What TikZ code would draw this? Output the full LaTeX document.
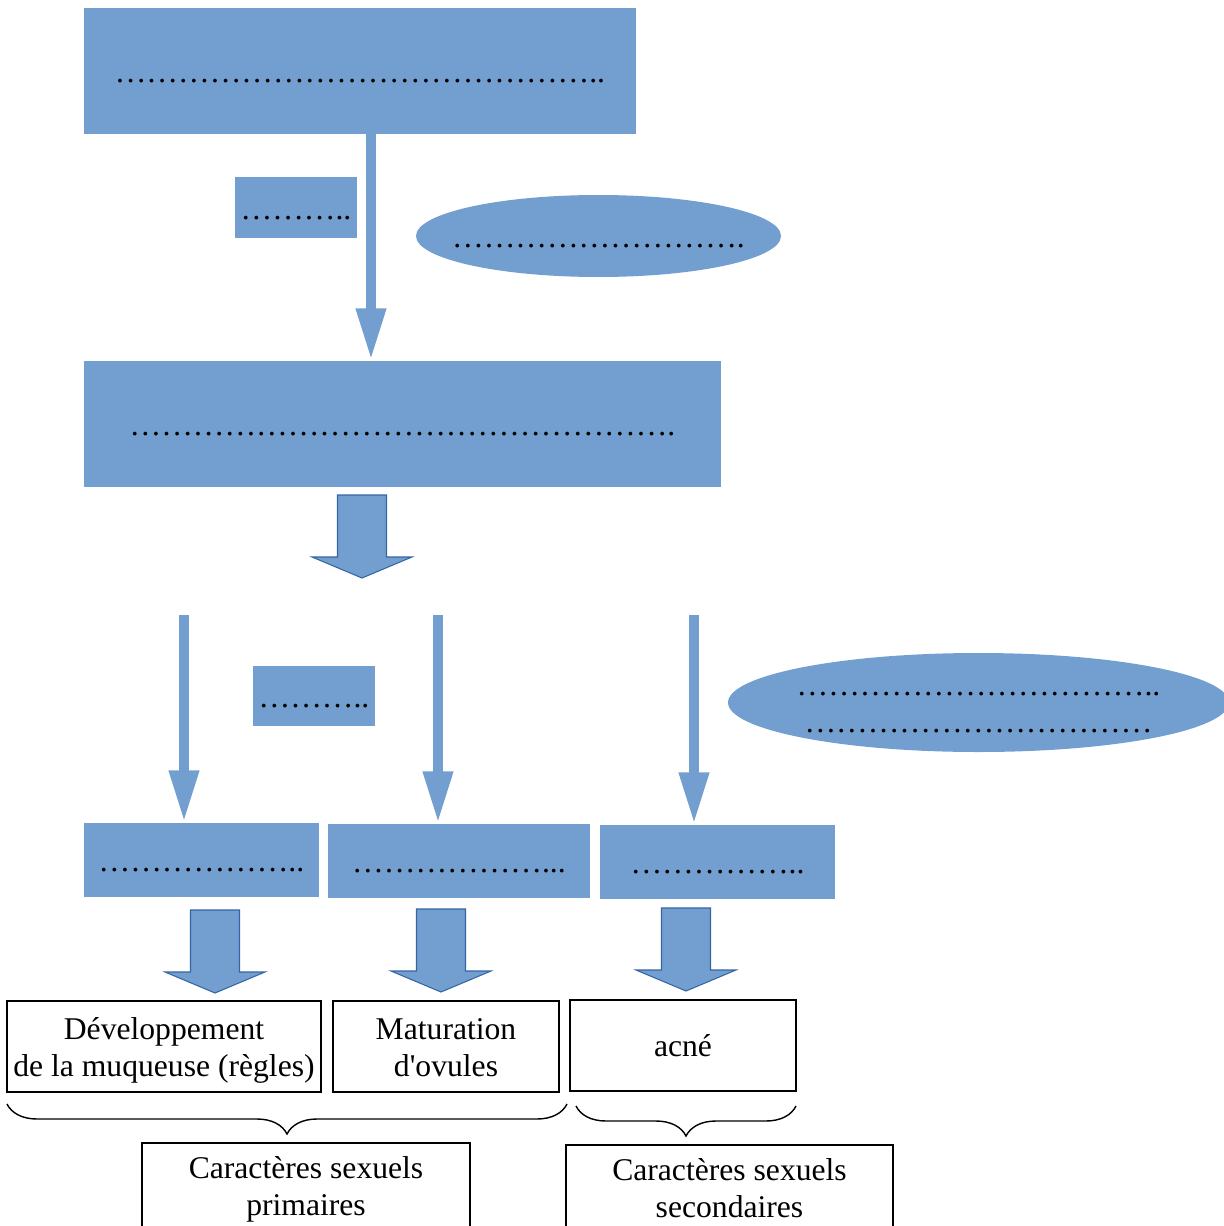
\documentclass[tikz,border=0pt]{standalone}
\usepackage{fontspec}
\setmainfont{Liberation Serif}[Ligatures=TeXOff]
\usepackage{tikz}
\usetikzlibrary{shapes.geometric,arrows.meta,decorations.pathreplacing}
\definecolor{bleu}{HTML}{729FCF}
\definecolor{bord}{HTML}{3465A4}
\newcommand\lh{\rule{0pt}{8.6pt}}
\newcommand\lb{\rule[-2.2pt]{0pt}{2.2pt}}
\tikzset{
  points/.style={inner sep=0pt, text height=0.9em, text depth=0.22em},
  boite/.style={points, fill=bleu},
  bulle/.style={fill=bleu, ellipse, inner sep=0pt},
  cadre/.style={draw, line width=0.4pt, inner sep=0pt, align=center},
  fleche/.style={draw=bleu, line width=1mm, -{Triangle[width=2.8mm,length=5.2mm]}},
  grosse/.style={fill=bleu, draw=bord, line width=0.3pt},
  accolade/.style={decorate, decoration={brace, amplitude=3mm, mirror}, line width=0.4pt}
}

\begin{document}
\begin{tikzpicture}[x=0.1mm, y=-0.1mm, font=\fontsize{9}{10.5}\selectfont]
      \useasboundingbox (0,0) rectangle (1223,1226);

      \node[boite, minimum width=55.2mm, minimum height=12.6mm] (A) at (360,71) {……………{}……………{}……………{}..};
      \node[boite, minimum width=12.2mm, minimum height=6.1mm] (B) at (296,207.5) {………{}..};
      \node[bulle, minimum width=36.5mm, minimum height=8.2mm] (C) at (598.5,236) {};
      \node[points] (c) at (C) {……………{}…………{}.};
      \node[boite, minimum width=63.7mm, minimum height=12.6mm] (D) at (402.5,424) {……………{}……………{}……………{}……{}.};

      \node[boite, minimum width=12.2mm, minimum height=6mm] (F) at (314,696) {………{}..};
      \node[bulle, minimum width=50.1mm, minimum height=9.9mm] (G) at (978.5,702.5) {};
      \node[align=center, inner sep=0pt] (g) at (G) {\lh……………{}……………{}…{}..\\……………{}……………{}…\lb};

      \node[boite, minimum width=23.5mm, minimum height=7.4mm] (E1) at (201.5,860) {……………{}…{}..};
      \node[boite, minimum width=26.2mm, minimum height=7.4mm] (E2) at (459,861) {……………{}…{}...};
      \node[boite, minimum width=23.5mm, minimum height=7.4mm] (E3) at (717.5,862) {……………{}..};

      \node[cadre, minimum width=31.4mm, minimum height=9.1mm] (W1) at (164,1046.5) {\lh Développement\\de la muqueuse (règles)\lb};
      \node[cadre, minimum width=22.6mm, minimum height=9.1mm] (W2) at (446,1046.5) {\lh Maturation\\d'ovules\lb};
      \node[cadre, minimum width=22.6mm, minimum height=9.1mm] (W3) at (683,1045.5) {acné};

      \node[cadre, minimum width=32.8mm, minimum height=8.5mm] (P1) at (306,1185.5) {\lh Caractères sexuels\\primaires\lb};
      \node[cadre, minimum width=32.7mm, minimum height=8.5mm] (P2) at (729.5,1187.5) {\lh Caractères sexuels\\secondaires\lb};

      \coordinate (a0) at (371,134);
      \draw[fleche] (a0) -- (a0 |- D.north);
      \foreach \x/\n in {184/E1, 438/E2, 694/E3}
        {\coordinate (t\n) at (\x,615);
         \draw[fleche] (t\n) -- (t\n |- \n.north);}

      \foreach \x/\y in {362/495, 215/910, 441/909, 686/908}
        \draw[grosse] (\x-24.5,\y) -- (\x+24.5,\y) -- (\x+24.5,\y+62) -- (\x+50,\y+62)
          -- (\x,\y+83) -- (\x-50,\y+62) -- (\x-24.5,\y+62) -- cycle;

      \coordinate (g1) at (7,1104);
      \coordinate (d1) at (567,1104);
      \coordinate (g2) at (576,1106);
      \coordinate (d2) at (796,1106);
      \draw[accolade] (g1) -- (d1);
      \draw[accolade] (g2) -- (d2);
\end{tikzpicture}
\end{document}
